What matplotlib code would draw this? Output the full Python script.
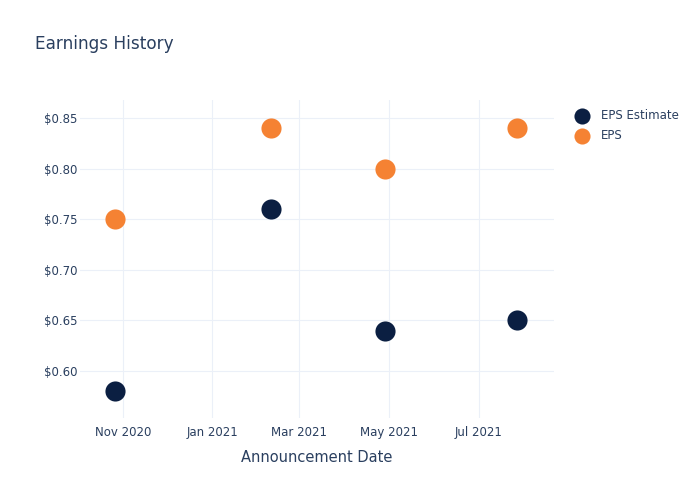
import pandas as pd
import matplotlib.pyplot as plt
import matplotlib.dates as mdates
from matplotlib.ticker import FuncFormatter

# data
dates = pd.to_datetime(['2020-10-27', '2021-02-10', '2021-04-28', '2021-07-27'])
eps_estimate = [0.58, 0.76, 0.64, 0.65]
eps_actual = [0.75, 0.84, 0.80, 0.84]

txt = '#2a3f5f'
grid = '#ebf0f8'

fig = plt.figure(figsize=(7, 5), dpi=100)
ax = fig.add_axes([80/700, 1-418/500, 474/700, 318/500])

ax.scatter(dates, eps_estimate, s=210, color='#0b1f42', label='EPS Estimate', zorder=3, linewidths=0)
ax.scatter(dates, eps_actual, s=210, color='#f58233', label='EPS', zorder=3, linewidths=0)

ax.set_xlim(pd.Timestamp('2020-10-03'), pd.Timestamp('2021-08-21'))
ax.set_ylim(0.5536, 0.8678)
ax.set_yticks([0.60, 0.65, 0.70, 0.75, 0.80, 0.85])
ax.yaxis.set_major_formatter(FuncFormatter(lambda v, p: '${:.2f}'.format(v)))
ax.xaxis.set_major_locator(mdates.MonthLocator(bymonth=[1, 3, 5, 7, 9, 11]))
ax.xaxis.set_major_formatter(mdates.DateFormatter('%b %Y'))

ax.grid(True, color=grid, linewidth=0.8)
ax.set_axisbelow(True)
for s in ax.spines.values():
    s.set_visible(False)
ax.tick_params(length=0, colors=txt, labelsize=8.5)
ax.tick_params(axis='y', pad=2)
ax.tick_params(axis='x', pad=6)

ax.set_xlabel('Announcement Date', color=txt, fontsize=10.5, labelpad=8)
fig.text(35/700, 1-44/500, 'Earnings History', color=txt, fontsize=12.2, va='center')

leg = ax.legend(loc='upper left', bbox_to_anchor=(1.025, 0.985), frameon=False,
                fontsize=8.5, labelcolor=txt, handletextpad=0.6, borderaxespad=0,
                labelspacing=0.55, markerscale=0.8)

fig.savefig('out.png', dpi=100)
